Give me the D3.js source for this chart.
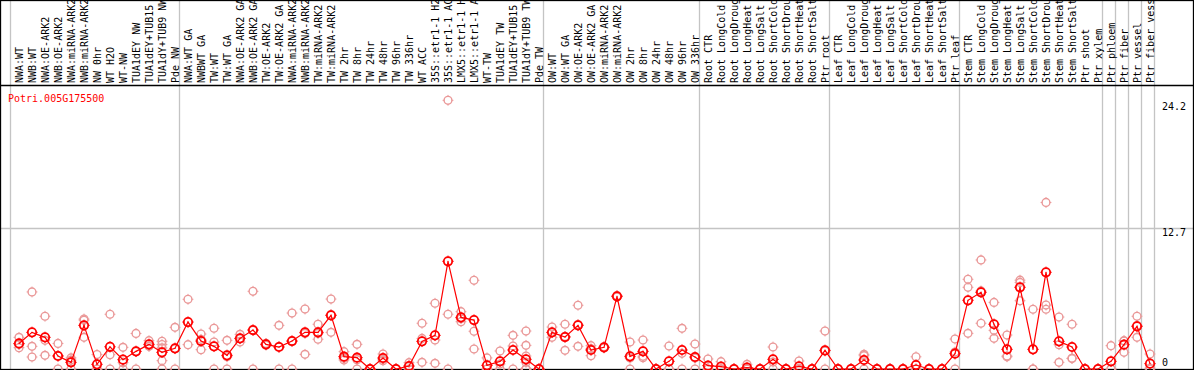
<html>
<head>
    <meta charset="utf-8">
    <title>Potri.005G175500</title>
    <style>
        body { margin: 0; background: #fff; }
        text { font-family: "DejaVu Sans Mono", monospace; font-size: 10px; }
    </style>
</head>
<body>
    <script src="https://cdn.jsdelivr.net/npm/d3@7/dist/d3.min.js"></script>
    <script type="text/javascript">
        var width = 1194;
        var height = 370;
        var geneName = "Potri.005G175500";

        var samples = [
            "NWA:WT", "NWB:WT", "NWA:OE-ARK2", "NWB:OE-ARK2", "NWA:miRNA-ARK2", "NWB:miRNA-ARK2",
            "NW 0hr", "WT H2O", "WT-NW", "TUA1dEY NW", "TUA1dEY+TUB15", "TUA1dY+TUB9 NW", "Pde NW",
            "NWA:WT GA", "NWBWT GA", "TW:WT", "TW:WT GA", "NWA:OE-ARK2 GA", "NWB:OE-ARK2 GA",
            "TW:OE-ARK2", "TW:OE-ARK2 GA", "NWA:miRNA-ARK2", "NWB:miRNA-ARK2", "TW:miRNA-ARK2",
            "TW:miRNA-ARK2", "TW 2hr", "TW 8hr", "TW 24hr", "TW 48hr", "TW 96hr", "TW 336hr",
            "WT ACC", "35S::etr1-1 H2", "35S::etr1-1 AC", "LMX5::etr1-1 H", "LMX5::etr1-1 A",
            "WT-TW", "TUA1dEY TW", "TUA1dEY+TUB15", "TUA1dY+TUB9 TW", "Pde TW",
            "OW:WT", "OW:WT GA", "OW:OE-ARK2", "OW:OE-ARK2 GA", "OW:miRNA-ARK2", "OW:miRNA-ARK2",
            "OW 2hr", "OW 8hr", "OW 24hr", "OW 48hr", "OW 96hr", "OW 336hr",
            "Root CTR", "Root LongCold", "Root LongDroug", "Root LongHeat", "Root LongSalt",
            "Root ShortCold", "Root ShortDrou", "Root ShortHeat", "Root ShortSalt", "Ptr root",
            "Leaf CTR", "Leaf LongCold", "Leaf LongDroug", "Leaf LongHeat", "Leaf LongSalt",
            "Leaf ShortCold", "Leaf ShortDrou", "Leaf ShortHeat", "Leaf ShortSalt", "Ptr leaf",
            "Stem CTR", "Stem LongCold", "Stem LongDroug", "Stem LongHeat", "Stem LongSalt",
            "Stem ShortCold", "Stem ShortDrou", "Stem ShortHeat", "Stem ShortSalt", "Ptr shoot",
            "Ptr xylem", "Ptr phloem", "Ptr fiber", "Ptr vessel", "Ptr fiber vess"
        ];

        // index where each sample group starts (last one = end)
        var groupBreaks = [0, 13, 41, 53, 63, 73, 84, 85, 86, 87, 88];

        var means = [
            2.3, 3.3, 2.85, 1.17, 0.6, 3.93, 0.42, 2.0, 0.84, 1.59, 2.22, 1.5, 1.86,
            4.23, 2.52, 2.04, 1.23, 2.76, 3.51, 2.22, 1.98, 2.52, 3.3, 3.3, 4.83, 1.11, 1.02,
            0, 0.99, 0, 0.27, 2.49, 3.03, 9.7, 4.65, 4.41, 0.33, 0.69, 1.71, 0.87, 0,
            3.3, 2.88, 3.93, 1.71, 1.95, 6.55, 1.14, 1.59, 0, 0.69, 1.71, 1.08,
            0.3, 0.21, 0, 0.12, 0, 0.87, 0, 0.24, 0, 1.68,
            0, 0, 0.81, 0, 0, 0, 0.36, 0, 0, 1.38,
            6.19, 6.91, 4.03, 1.77, 7.36, 1.77, 8.71, 2.49, 1.98, 0, 0,
            0.69, 2.19, 3.84, 0.48
        ];

        var replicates = [
            [2.85, 1.92, 2.2], [6.94, 2.04, 1.08], [4.75, 2.58, 1.23], [2.3, 0, 1.2], [1.0, 0, 0.8],
            [4.5, 4.4, 2.85], [1.3, 0, 0], [4.93, 1.29, 0], [1.95, 0.57, 0], [3.2, 0, 1.57],
            [2.55, 2.07, 2.04], [2.5, 2.2, 1.9, 0.75, 0], [3.75, 0, 1.83],
            [6.28, 2.19], [3.15, 1.74, 2.67], [3.67, 2.43, 0], [2.58, 0, 1.1], [3.12, 2.43, 2.73],
            [7.0, 0, 3.5], [2.3, 2.2, 2.15], [3.93, 0, 2.0], [5.04, 0, 2.5], [5.4, 1.32, 3.2],
            [4.03, 2.68, 3.2], [6.3, 3.3, 4.9], [1.56, 0.81, 0.96], [2.22, 0, 0.84], [0, 0, 0],
            [1.35, 0.75, 0.87], [0, 0, 0], [0.57, 0.24, 0], [4.12, 0.6, 2.75], [5.92, 2.61, 0.51],
            [24.2, 4.93, 0], [5.16, 4.26, 4.53], [7.99, 3.4, 1.8], [1.0, 0, 0], [1.62, 0.45, 0],
            [3.03, 2.07, 0], [3.42, 2.13, 1.17, 0.6, 0, 0, 0, 0], [0, 0, 0],
            [3.78, 2.85, 3.27], [4.03, 1.68, 2.93], [5.74, 2.04, 4.0], [2.1, 1.2, 1.83],
            [2.0, 1.9, 1.95], [6.6, 6.5, 6.55], [2.43, 0, 1.0], [2.61, 1.02, 1.14], [0, 0, 0],
            [2.07, 0, 0], [3.66, 1.41, 0], [2.25, 0, 1.0],
            [0.9, 0, 0], [0.66, 0, 0], [0, 0, 0], [0.42, 0, 0], [0, 0, 0], [1.98, 0.63, 0],
            [0, 0, 0], [0.72, 0, 0], [0, 0, 0], [3.42, 0, 1.62],
            [0, 0, 0], [0, 0, 0], [1.32, 1.2, 0], [0, 0, 0], [0, 0, 0], [0, 0, 0], [1.1, 0, 0],
            [0, 0, 0], [0, 0, 0], [2.7, 1.53, 0],
            [8.08, 7.36, 3.21], [9.82, 7.03, 4.12], [6.0, 3.48, 2.76], [3.06, 1.17, 1.1],
            [8.0, 7.8, 6.15], [5.38, 0, 0], [15.0, 5.76, 5.38], [4.68, 0.6, 2.19],
            [4.03, 0.96, 0.95], [0, 0, 0], [0, 0, 0],
            [2.1, 0, 0], [2.55, 1.5, 2.52], [4.75, 2.85, 3.92], [1.35, 0.09, 0]
        ];

        var yMax = 24.2;
        var yTicks = [0, 12.7, 24.2];

        var headerBottom = 85;
        var plotBottom = 369;

        var svg = d3.select("body")
            .append("svg")
            .attr("width", width)
            .attr("height", height);

        // one band per sample, point sits a bit right of the band centre
        var x = d3.scaleBand()
            .domain(d3.range(samples.length))
            .range([11, 11 + 13 * samples.length]);
        var px = function (i) { return x(i) + 8; };

        var y = d3.scaleLinear()
            .domain([0, 25.4])
            .range([plotBottom, 87]);

        //分组竖线
        svg.selectAll(".groupLine")
            .data(groupBreaks)
            .enter()
            .append("line")
            .attr("class", "groupLine")
            .attr("x1", d => (d < samples.length ? x(d) : x(samples.length - 1) + x.bandwidth()) - 0.5)
            .attr("x2", d => (d < samples.length ? x(d) : x(samples.length - 1) + x.bandwidth()) - 0.5)
            .attr("y1", 0)
            .attr("y2", height)
            .style("stroke", "#c4c4c4")
            .style("stroke-width", 1.3);

        // middle grid line
        svg.append("line")
            .attr("x1", 0)
            .attr("x2", width)
            .attr("y1", Math.round(y(12.7)) + 0.5)
            .attr("y2", Math.round(y(12.7)) + 0.5)
            .style("stroke", "#c4c4c4")
            .style("stroke-width", 1.3);

        // frame + header rule
        svg.append("rect")
            .attr("x", 0.5)
            .attr("y", 0.5)
            .attr("width", width - 1)
            .attr("height", plotBottom)
            .style("fill", "none")
            .style("stroke", "black")
            .style("stroke-width", 1.3);

        svg.append("line")
            .attr("x1", 0)
            .attr("x2", width)
            .attr("y1", headerBottom + 0.5)
            .attr("y2", headerBottom + 0.5)
            .style("stroke", "black")
            .style("stroke-width", 1.3);

        // sample names, rotated
        svg.selectAll(".sampleText")
            .data(samples)
            .enter()
            .append("text")
            .attr("class", "sampleText")
            .attr("transform", (d, i) => "translate(" + (px(i) + 4) + "," + (headerBottom - 2) + ") rotate(-90)")
            .style("fill", "black")
            .text(d => d);

        svg.append("text")
            .attr("x", 8)
            .attr("y", 102)
            .style("fill", "red")
            .text(geneName);

        svg.selectAll(".yText")
            .data(yTicks)
            .enter()
            .append("text")
            .attr("class", "yText")
            .attr("x", 1162)
            .attr("y", d => d == 0 ? y(d) - 3 : (d == yMax ? y(d) + 9.5 : y(d) + 8))
            .style("fill", "black")
            .text(d => d);

        function marker(g, r, color, sw, dot) {
            g.append("circle")
                .attr("r", r)
                .style("fill", "none")
                .style("stroke", color)
                .style("stroke-width", sw);
            g.append("path")
                .attr("d", "M0," + (-r - 1.5) + "V" + (-r) + "M0," + r + "V" + (r + 1.5) +
                    "M" + (-r - 1.5) + ",0H" + (-r) + "M" + r + ",0H" + (r + 1.5))
                .style("stroke", color)
                .style("stroke-width", 1);
            if (dot) {
                g.append("rect")
                    .attr("x", -0.5).attr("y", -0.5)
                    .attr("width", 1).attr("height", 1)
                    .style("fill", color);
            }
        }

        // replicate points
        var reps = [];
        replicates.forEach(function (vals, i) {
            vals.forEach(function (v) { reps.push({ i: i, v: v }); });
        });

        svg.selectAll(".rep")
            .data(reps)
            .enter()
            .append("g")
            .attr("class", "rep")
            .attr("transform", d => "translate(" + px(d.i) + "," + y(d.v) + ")")
            .each(function () { marker(d3.select(this), 3.9, "#ea9898", 1.4, false); });

        // mean line
        var line = d3.line()
            .x((d, i) => px(i))
            .y(d => y(d));

        svg.append("path")
            .datum(means)
            .attr("d", line)
            .style("fill", "none")
            .style("stroke", "red")
            .style("stroke-width", 1.2);

        svg.selectAll(".mean")
            .data(means)
            .enter()
            .append("g")
            .attr("class", "mean")
            .attr("transform", (d, i) => "translate(" + px(i) + "," + y(d) + ")")
            .each(function () { marker(d3.select(this), 4.2, "red", 1.8, true); });
    </script>
</body>
</html>
